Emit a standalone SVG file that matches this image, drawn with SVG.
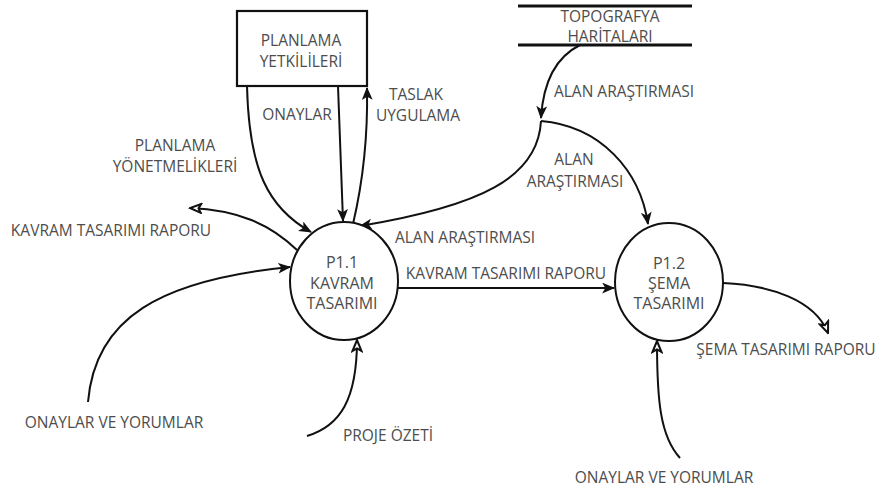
<svg xmlns="http://www.w3.org/2000/svg" width="879" height="490" viewBox="0 0 879 490">
  <style>
    text { font-family: "Open Sans", "Noto Sans", "DejaVu Sans", sans-serif; font-size: 15.5px; fill: #4d4d4d; text-anchor: middle; }
    .pt { font-size: 16px; }
    .proc { fill: #fff; stroke: #111; stroke-width: 2; }
    .ext { fill: #fff; stroke: #111; stroke-width: 2.2; }
    .store { stroke: #111; stroke-width: 3; }
    .flow { fill: none; stroke: #111; stroke-width: 2; }
    .in { marker-end: url(#arrow); }
    .out { marker-end: url(#arrowOpen); }
  </style>
  <defs>
    <marker id="arrow" viewBox="0 0 12 10" refX="11" refY="5" markerWidth="13" markerHeight="11" markerUnits="userSpaceOnUse" orient="auto">
      <path d="M0,0 L12,5 L0,10 L3,5 Z" fill="#111"/>
    </marker>
    <marker id="arrowOpen" viewBox="0 0 14 12" refX="12.5" refY="6" markerWidth="14" markerHeight="12" markerUnits="userSpaceOnUse" orient="auto">
      <path d="M1.5,1.5 L12.5,6 L1.5,10.5 L4,6 Z" fill="#fff" stroke="#111" stroke-width="2"/>
    </marker>
  </defs>

  <!-- data flows -->
  <g id="connectors">
    <path class="flow in" d="M580,45 C554,58 543,85 541,118"/>
    <path class="flow in" d="M541,121 C600,126 640,170 648,224"/>
    <path class="flow in" d="M541,121 C538,178 480,206 360,226"/>
    <path class="flow in" d="M247,86 C249,170 268,208 311,232"/>
    <path class="flow in" d="M338,86 L343,221"/>
    <path class="flow in" d="M353,224 C361,190 368,140 367,88"/>
    <path class="flow out" d="M297,250 C270,224 238,210 190,208"/>
    <path class="flow in" d="M88,402 C95,318 160,280 290,267"/>
    <path class="flow out" d="M307,436 C340,426 357,400 357,340"/>
    <path class="flow in" d="M398,288 L614,288"/>
    <path class="flow out" d="M723,283 C770,285 815,300 828,333"/>
    <path class="flow out" d="M680,458 C660,436 657,400 657,341"/>
  </g>

  <!-- external entity -->
  <g id="planlama-yetkilileri">
    <rect class="ext" x="237" y="11" width="130" height="75"/>
    <text x="301" y="46">PLANLAMA</text>
    <text x="301" y="67">YETKİLİLERİ</text>
  </g>

  <!-- data store -->
  <g id="topografya-haritalari">
    <line class="store" x1="518" y1="6" x2="692" y2="6"/>
    <line class="store" x1="518" y1="45" x2="692" y2="45"/>
    <text x="610" y="22">TOPOGRAFYA</text>
    <text x="610" y="42">HARİTALARI</text>
  </g>

  <!-- processes -->
  <g id="p1-1">
    <ellipse class="proc" cx="344" cy="281" rx="54" ry="59"/>
    <text class="pt" x="342" y="268">P1.1</text>
    <text class="pt" x="342" y="289">KAVRAM</text>
    <text class="pt" x="342" y="309">TASARIMI</text>
  </g>
  <g id="p1-2">
    <ellipse class="proc" cx="669" cy="282" rx="54" ry="59"/>
    <text class="pt" x="669" y="269">P1.2</text>
    <text class="pt" x="669" y="289">ŞEMA</text>
    <text class="pt" x="669" y="309">TASARIMI</text>
  </g>

  <!-- flow labels -->
  <g id="labels">
    <text x="297" y="120">ONAYLAR</text>
    <text x="416" y="100">TASLAK</text>
    <text x="418" y="121">UYGULAMA</text>
    <text x="175" y="151">PLANLAMA</text>
    <text x="175" y="172">YÖNETMELİKLERİ</text>
    <text x="624" y="97">ALAN ARAŞTIRMASI</text>
    <text x="574" y="165">ALAN</text>
    <text x="575" y="187">ARAŞTIRMASI</text>
    <text x="111" y="236">KAVRAM TASARIMI RAPORU</text>
    <text x="465" y="243">ALAN ARAŞTIRMASI</text>
    <text x="506" y="279">KAVRAM TASARIMI RAPORU</text>
    <text x="114" y="428">ONAYLAR VE YORUMLAR</text>
    <text x="388" y="441">PROJE ÖZETİ</text>
    <text x="786" y="355">ŞEMA TASARIMI RAPORU</text>
    <text x="664" y="483">ONAYLAR VE YORUMLAR</text>
  </g>
</svg>
